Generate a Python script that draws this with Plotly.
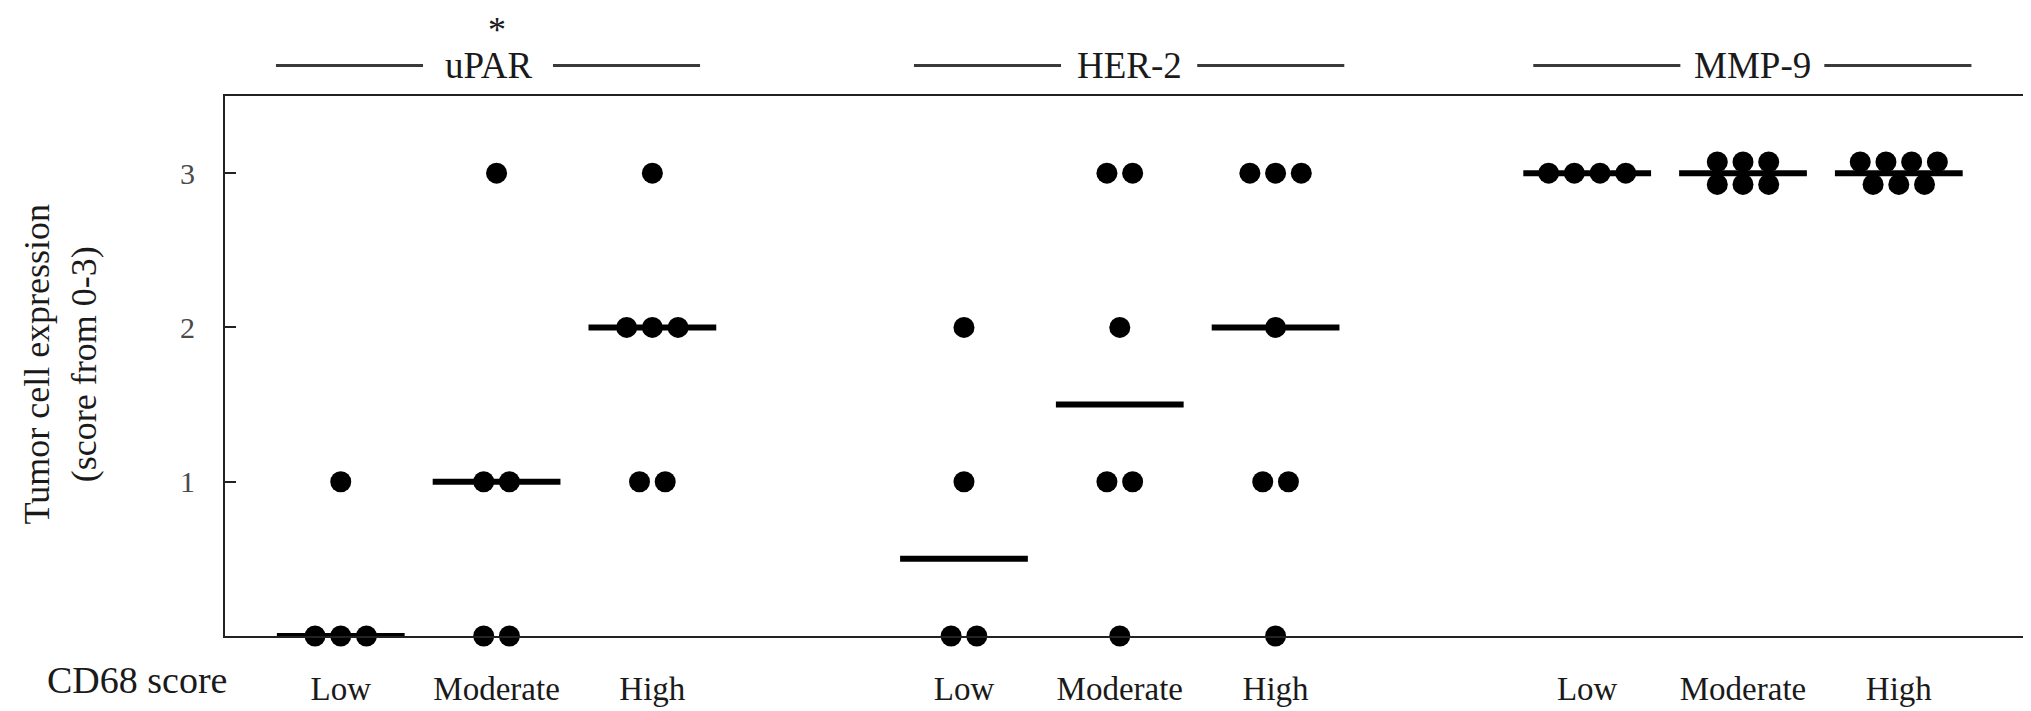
import numpy as np
import plotly.graph_objects as go

# Scores per marker and CD68 group
markers = ["uPAR", "HER-2", "MMP-9"]
cd68_levels = ["Low", "Moderate", "High"]

upar_low = [0, 0, 0, 1]
upar_moderate = [0, 0, 1, 1, 3]
upar_high = [1, 1, 2, 2, 2, 3]
her2_low = [0, 0, 1, 2]
her2_moderate = [0, 1, 1, 2, 3, 3]
her2_high = [0, 1, 1, 2, 3, 3, 3]
mmp9_low = [3, 3, 3, 3]
mmp9_moderate = [3, 3, 3, 3, 3, 3]
mmp9_high = [3, 3, 3, 3, 3, 3, 3]

groups = [
    [upar_low, upar_moderate, upar_high],
    [her2_low, her2_moderate, her2_high],
    [mmp9_low, mmp9_moderate, mmp9_high],
]
significance = ["*", "", ""]

y_ticks = [1, 2, 3]

FONT = "Liberation Serif"
INK = "#1a1a1a"

# geometry (axis units)
X_RANGE = [-0.743, 10.81]
Y_RANGE = [0, 3.5]
STEP = 0.165      # horizontal spacing between tied points
ROW_DY = 0.073    # vertical shift when ties are split in two rows
MED_HALF = 0.41   # half width of the median bar


def swarm(values, center):
    """simple dot-plot layout: ties spread sideways, big ties in two rows"""
    xs, ys = [], []
    for v in sorted(set(values)):
        n = values.count(v)
        if n <= 4:
            rows = [(n, 0.0)]
        else:
            top = int(np.ceil(n / 2))
            rows = [(top, ROW_DY), (n - top, -ROW_DY)]
        for k, dy in rows:
            for i in range(k):
                xs.append(center + (i - (k - 1) / 2) * STEP)
                ys.append(v + dy)
    return xs, ys


fig = go.Figure()
tickvals, ticktext = [], []

for m, marker_groups in enumerate(groups):
    for g, vals in enumerate(marker_groups):
        pos = m * 4 + g
        tickvals.append(pos)
        ticktext.append(cd68_levels[g])
        med = float(np.median(vals))
        fig.add_trace(go.Scatter(
            x=[pos - MED_HALF, pos + MED_HALF], y=[med, med],
            mode="lines", line=dict(color="black", width=6),
            hoverinfo="skip", showlegend=False, cliponaxis=False))
        xs, ys = swarm(vals, pos)
        fig.add_trace(go.Scatter(
            x=xs, y=ys, mode="markers",
            marker=dict(color="black", size=21, line=dict(width=0)),
            name=f"{markers[m]} {cd68_levels[g]}",
            showlegend=False, cliponaxis=False))

# header rules and labels above each marker block
HEAD_Y = (637 - 57) / 549
header_shift = [-0.055, 0.06, 0.06]
header_gap = [0.417, 0.437, 0.462]
RULE_LEN = 0.944
for m, name in enumerate(markers):
    c = m * 4 + 1 + header_shift[m]
    for side in (-1, 1):
        a = c + side * header_gap[m]
        b = c + side * (header_gap[m] + RULE_LEN)
        fig.add_shape(type="line", xref="x", yref="paper",
                      x0=a, x1=b, y0=HEAD_Y, y1=HEAD_Y,
                      line=dict(color="#3a3a3a", width=3))
    fig.add_annotation(x=c, y=HEAD_Y, xref="x", yref="paper", text=name,
                       showarrow=False, xanchor="center", yanchor="middle",
                       font=dict(family=FONT, size=37, color=INK))
    if significance[m]:
        # anchored to the top edge of the page so the label box stays inside
        fig.add_annotation(x=m * 4 + 1, y=637 / 549, xref="x", yref="paper",
                           text=significance[m], showarrow=False,
                           xanchor="center", yanchor="top", borderpad=0,
                           font=dict(family=FONT, size=36, color=INK))

fig.add_annotation(x=(53 - 217) / 1800, y=0.5027, xref="paper", yref="paper",
                   text="Tumor cell expression<br>(score from 0-3)",
                   textangle=-90, showarrow=False, xanchor="center", yanchor="middle",
                   font=dict(family=FONT, size=36, color=INK))
fig.add_annotation(x=(128.5 - 217) / 1800, y=(637 - 682) / 549, xref="paper", yref="paper",
                   text="CD68 score", showarrow=False, xanchor="center", yanchor="middle",
                   font=dict(family=FONT, size=38, color=INK))

fig.update_xaxes(range=X_RANGE, tickvals=tickvals, ticktext=ticktext,
                 showgrid=False, zeroline=False, ticks="",
                 showline=True, mirror=True, linecolor="#222", linewidth=2,
                 tickfont=dict(family=FONT, size=33, color=INK),
                 ticklabelstandoff=22)
fig.update_yaxes(range=Y_RANGE, tickvals=y_ticks, showgrid=False, zeroline=False,
                 ticks="inside", ticklen=11, tickwidth=2, tickcolor="#222",
                 showline=True, mirror=True, linecolor="#222", linewidth=2,
                 tickfont=dict(family=FONT, size=30, color="#4a4a4a"),
                 ticklabelstandoff=22)

fig.update_layout(width=2031, height=711,
                  margin=dict(l=217, r=14, t=88, b=74),
                  plot_bgcolor="white", paper_bgcolor="white",
                  showlegend=False)

fig.write_html("out.html")
